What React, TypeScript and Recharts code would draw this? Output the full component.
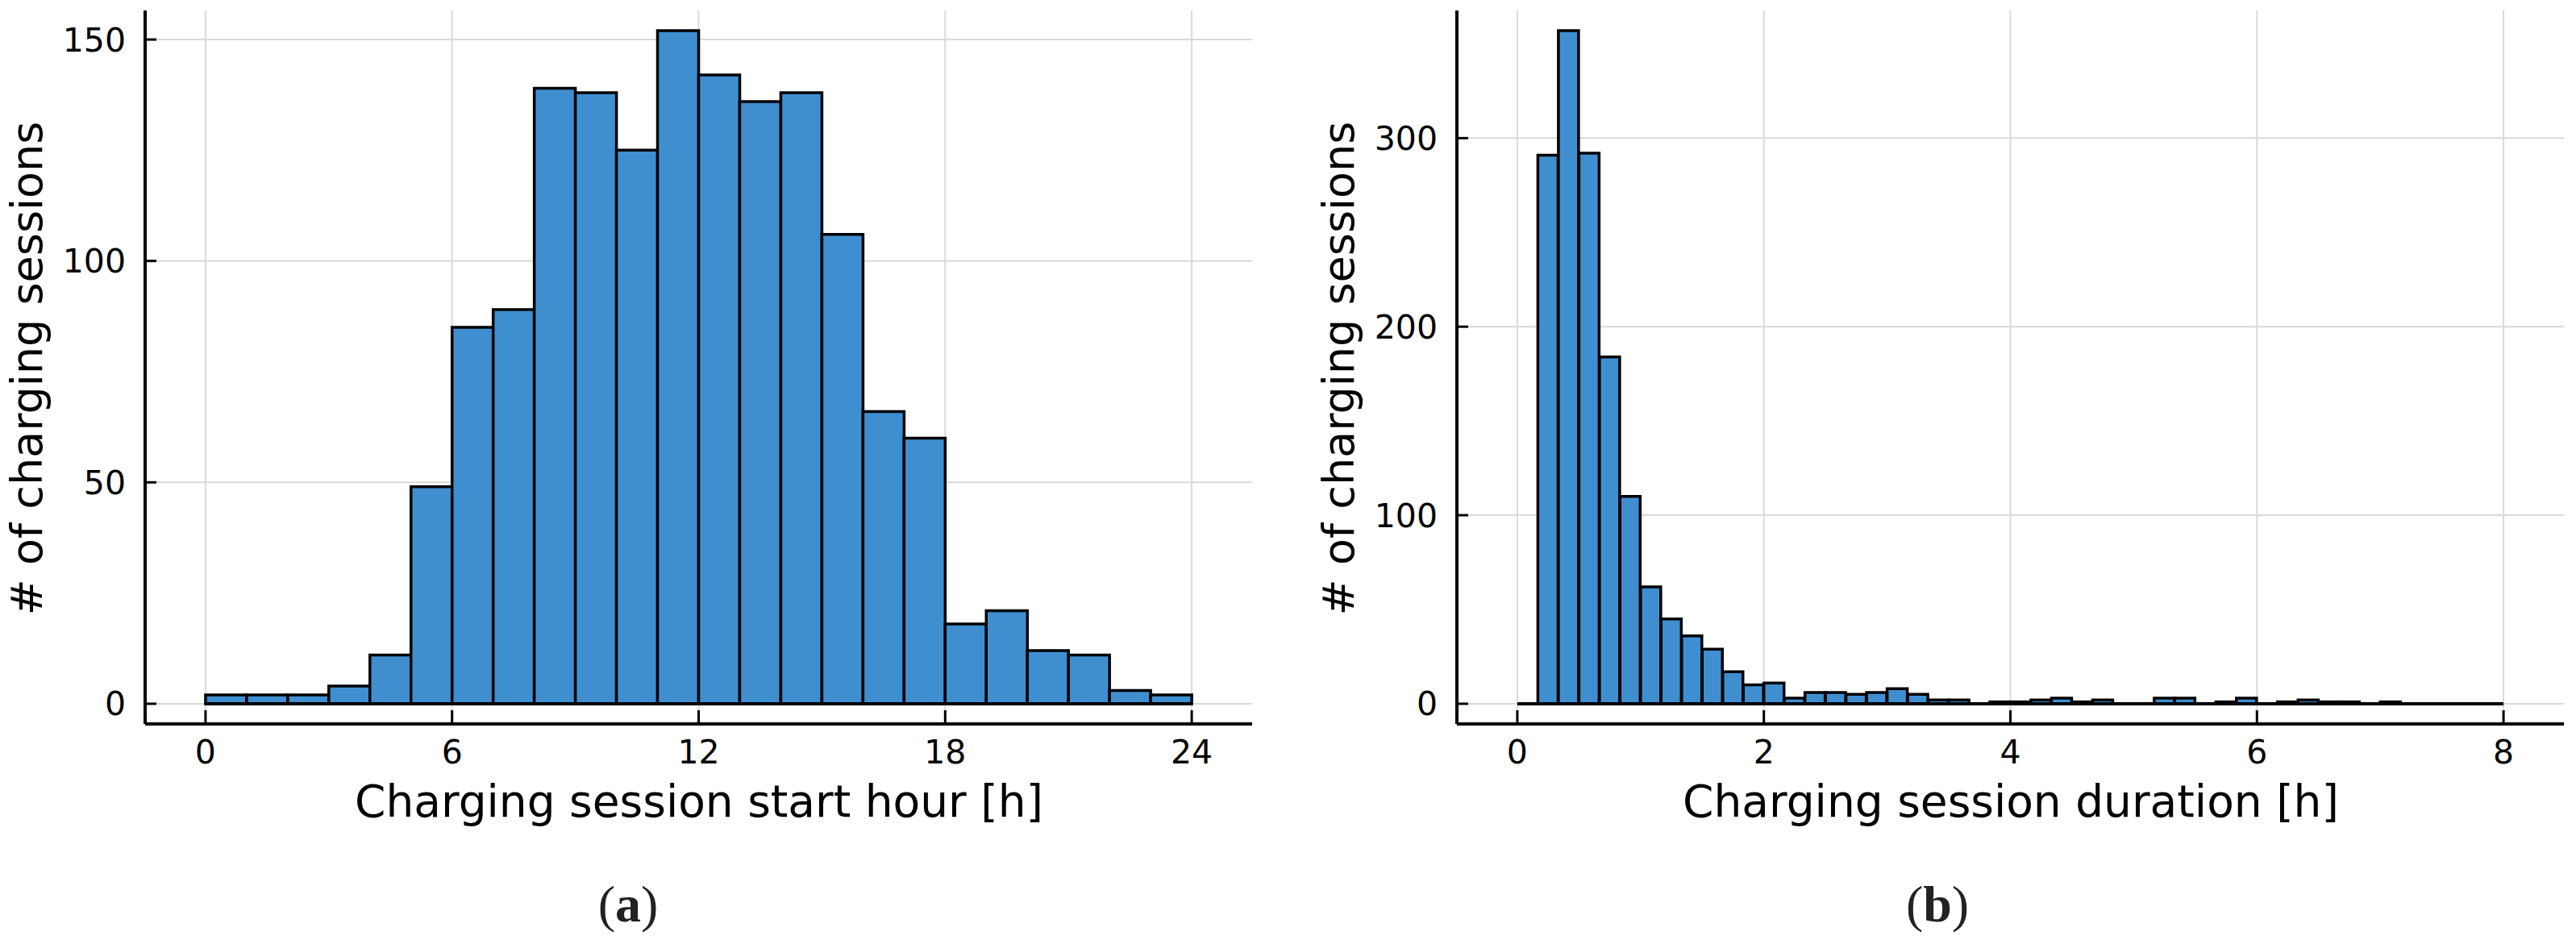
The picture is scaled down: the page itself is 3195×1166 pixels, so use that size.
import React from "react";
import { ComposedChart, Bar, XAxis, YAxis, CartesianGrid, ReferenceLine } from "recharts";

// ---- Data ----
const startHours = [0, 1, 2, 3, 4, 5, 6, 7, 8, 9, 10, 11, 12, 13, 14, 15, 16, 17, 18, 19, 20, 21, 22, 23];
const startCounts = [2, 2, 2, 4, 11, 49, 85, 89, 139, 138, 125, 152, 142, 136, 138, 106, 66, 60, 18, 21, 12, 11, 3, 2];
const startTicks = [0, 6, 12, 18, 24];
const startYTicks = [0, 50, 100, 150];

const durationBinWidth = 1 / 6; // hours (10 minutes)
const durationCounts = [
  0, 291, 357, 292, 184, 110, 62, 45, 36, 29, 17, 10,
  11, 3, 6, 6, 5, 6, 8, 5, 2, 2, 0, 1,
  1, 2, 3, 1, 2, 0, 0, 3, 3, 0, 1, 3,
  0, 1, 2, 1, 1, 0, 1, 0, 0, 0, 0, 0,
];
const durationTicks = [0, 2, 4, 6, 8];
const durationYTicks = [0, 100, 200, 300];

const startData = startHours.map((h, i) => ({ x: h + 0.5, count: startCounts[i] }));
const durationData = durationCounts.map((c, i) => ({ x: (i + 0.5) * durationBinWidth, count: c }));

const FONT = "'DejaVu Sans', sans-serif";
const BAR_FILL = "#3f8fd0";
const GRID = "#d9d9d9";

const YTick = (props: any) => {
  const { x, y, payload } = props;
  return (
    <g>
      <line x1={x} x2={x + 14} y1={y} y2={y} stroke="#000" strokeWidth={3} />
      <text x={x - 24} y={y + 14.5} textAnchor="end" fontFamily={FONT} fontSize={41} fill="#000">
        {payload.value}
      </text>
    </g>
  );
};

const XTick = (props: any) => {
  const { x, y, payload } = props;
  return (
    <g>
      <line x1={x} x2={x} y1={y} y2={y - 17} stroke="#000" strokeWidth={3} />
      <text x={x} y={y + 49} textAnchor="middle" fontFamily={FONT} fontSize={41} fill="#000">
        {payload.value}
      </text>
    </g>
  );
};

function Hist(props: {
  data: any[];
  width: number;
  height: number;
  margin: any;
  xDomain: [number, number];
  yDomain: [number, number];
  xTicks: number[];
  yTicks: number[];
  baseEnd: number;
}) {
  const { data, width, height, margin, xDomain, yDomain, xTicks, yTicks, baseEnd } = props;
  return (
    <ComposedChart width={width} height={height} data={data} margin={margin} barCategoryGap={0} barGap={0}>
      <CartesianGrid
        stroke={GRID}
        strokeWidth={2}
        horizontalValues={yTicks}
        verticalValues={xTicks}
      />
      <XAxis
        dataKey="x"
        type="number"
        domain={xDomain}
        ticks={xTicks}
        allowDataOverflow
        height={1}
        tickSize={0}
        tickMargin={0}
        tickLine={false}
        tick={<XTick />}
        axisLine={{ stroke: "#000", strokeWidth: 4 }}
        interval={0}
      />
      <YAxis
        type="number"
        domain={yDomain}
        ticks={yTicks}
        allowDataOverflow
        width={1}
        tickSize={0}
        tickMargin={0}
        tickLine={false}
        tick={<YTick />}
        axisLine={{ stroke: "#000", strokeWidth: 4 }}
        interval={0}
      />
      <Bar dataKey="count" fill={BAR_FILL} stroke="#000" strokeWidth={3.5} isAnimationActive={false} />
      <ReferenceLine
        segment={[{ x: 0, y: 0 }, { x: baseEnd, y: 0 }]}
        stroke="#000"
        strokeWidth={4}
        ifOverflow="visible"
      />
    </ComposedChart>
  );
}

export default function App() {
  return (
    <div style={{ position: "absolute", left: 0, top: 0, width: 3195, height: 1166, background: "#fff" }}>
      <div style={{ position: "absolute", left: 0, top: 0 }}>
        <Hist
          data={startData}
          width={1600}
          height={1166}
          margin={{ left: 179, right: 47, top: 13, bottom: 267 }}
          xDomain={[-1.47, 25.47]}
          yDomain={[-4.56, 156.56]}
          xTicks={startTicks}
          yTicks={startYTicks}
          baseEnd={24}
        />
      </div>
      <div style={{ position: "absolute", left: 1600, top: 0 }}>
        <Hist
          data={durationData}
          width={1595}
          height={1166}
          margin={{ left: 206, right: 15, top: 13, bottom: 267 }}
          xDomain={[-0.49, 8.49]}
          yDomain={[-10.71, 367.71]}
          xTicks={durationTicks}
          yTicks={durationYTicks}
          baseEnd={8}
        />
      </div>
      <svg
        width={3195}
        height={1166}
        style={{ position: "absolute", left: 0, top: 0, pointerEvents: "none" }}
      >
        <text transform="translate(52,457) rotate(-90)" textAnchor="middle" fontFamily={FONT} fontSize={54} fill="#000">
          # of charging sessions
        </text>
        <text transform="translate(1679,457) rotate(-90)" textAnchor="middle" fontFamily={FONT} fontSize={54} fill="#000">
          # of charging sessions
        </text>
        <text x={867} y={1013} textAnchor="middle" fontFamily={FONT} fontSize={55} fill="#000">
          Charging session start hour [h]
        </text>
        <text x={2494} y={1013} textAnchor="middle" fontFamily={FONT} fontSize={55} fill="#000">
          Charging session duration [h]
        </text>
        <text x={779} y={1143} textAnchor="middle" fontFamily="'Liberation Serif', serif" fontSize={64} fill="#222">
          (<tspan fontWeight="bold">a</tspan>)
        </text>
        <text x={2403} y={1143} textAnchor="middle" fontFamily="'Liberation Serif', serif" fontSize={64} fill="#222">
          (<tspan fontWeight="bold">b</tspan>)
        </text>
      </svg>
    </div>
  );
}
